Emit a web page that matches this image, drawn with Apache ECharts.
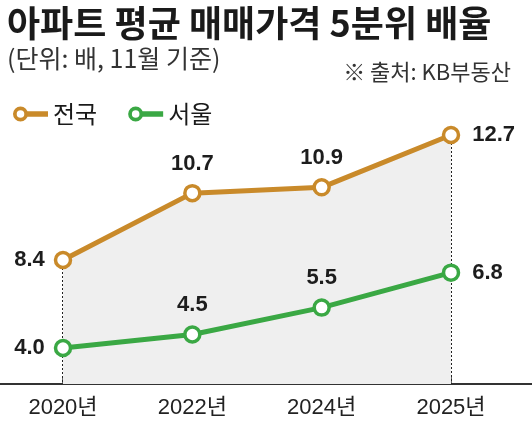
<!DOCTYPE html>
<html><head><meta charset="utf-8">
<script src="https://cdn.jsdelivr.net/npm/echarts@6/dist/echarts.min.js"></script>
<style>html,body{margin:0;padding:0;background:#fff;}#c{width:532px;height:430px;}</style>
</head><body><div id="c"></div>
<script>
var years = ['2020년', '2022년', '2024년', '2025년'];
var national = [8.4, 10.7, 10.9, 12.7];
var seoul = [4.0, 4.5, 5.5, 6.8];
var seriesNames = ['전국', '서울'];

var ORANGE = '#c98a2a', GREEN = '#3aa844';
var NAT_MIN = 4.134, NAT_MAX = 13.904;
var SEO_MIN = 2.66, SEO_MAX = 13.22;
var ICON = 'path://M0,7.5 A7.5,7.5 0 1,1 15,7.5 A7.5,7.5 0 1,1 0,7.5 Z M3.7,7.5 A3.8,3.8 0 1,0 11.3,7.5 A3.8,3.8 0 1,0 3.7,7.5 Z M14,4.8 L35,4.8 L35,10.2 L14,10.2 Z';
var LABEL_FONT = {fontFamily: 'Liberation Sans, Arial, sans-serif', fontWeight: 'bold', fontSize: 22, color: '#1d1d1d'};

function buildData(arr) {
  var last = arr.length - 1;
  return arr.map(function (v, i) {
    var pos = i === 0 ? 'left' : (i === last ? 'right' : 'top');
    return {value: v, label: {position: pos, distance: i === last ? 12 : 9}};
  });
}
function fmt(p) { return Number(p.value).toFixed(1); }

var chart = echarts.init(document.getElementById('c'), null, {renderer: 'canvas'});
chart.setOption({
  animation: false,
  backgroundColor: '#fff',
  title: [
    {text: '아파트 평균 매매가격 5분위 배율', left: 2, top: 0,
     textStyle: {fontFamily: 'Noto Sans CJK KR', fontWeight: 'bold', fontSize: 36, color: '#1a1a1a'}},
    {text: '(단위: 배, 11월 기준)', left: 2, top: 41,
     textStyle: {fontFamily: 'Noto Sans CJK KR', fontWeight: 'normal', fontSize: 25, color: '#333'}},
    {text: '※ 출처: KB부동산', right: 16, top: 56,
     textStyle: {fontFamily: 'Noto Sans CJK KR', fontWeight: 'normal', fontSize: 22, color: '#333'}}
  ],
  legend: {
    left: 8, top: 97, itemWidth: 35, itemHeight: 15, itemGap: 31,
    textStyle: {fontFamily: 'Noto Sans CJK KR', fontSize: 24, color: '#1a1a1a', padding: [0, 0, 0, 0]},
    data: [
      {name: seriesNames[0], icon: ICON, itemStyle: {color: ORANGE, borderWidth: 0}},
      {name: seriesNames[1], icon: ICON, itemStyle: {color: GREEN, borderWidth: 0}}
    ]
  },
  grid: {left: 63, right: 81, top: 100, bottom: 46},
  xAxis: {
    type: 'category', data: years, boundaryGap: false,
    axisLine: {show: false},
    axisTick: {show: true, inside: true, length: 7, lineStyle: {color: '#333', width: 1.5}},
    axisLabel: {margin: 13, fontFamily: 'Liberation Sans Narrow, Liberation Sans, Noto Sans CJK KR', fontSize: 22, color: '#222'},
    splitLine: {show: false}
  },
  yAxis: [
    {type: 'value', show: false, min: NAT_MIN, max: NAT_MAX, splitLine: {show: false}},
    {type: 'value', show: false, min: SEO_MIN, max: SEO_MAX, splitLine: {show: false}}
  ],
  graphic: [
    {type: 'line', z: 1, shape: {x1: 0, y1: 384, x2: 532, y2: 384}, style: {stroke: '#333', lineWidth: 2}}
  ],
  series: [
    {
      name: seriesNames[0], type: 'line', yAxisIndex: 0, z: 3,
      data: buildData(national),
      symbol: 'circle', symbolSize: 15,
      itemStyle: {color: '#fff', borderColor: ORANGE, borderWidth: 3.5},
      lineStyle: {color: ORANGE, width: 5},
      areaStyle: {color: '#efefef', opacity: 1},
      label: Object.assign({show: true, formatter: fmt}, LABEL_FONT),
      markLine: {
        silent: true, symbol: 'none', z: 1,
        label: {show: false},
        lineStyle: {type: 'dotted', color: '#222', width: 2},
        data: [
          [{coord: [years[0], national[0]]}, {coord: [years[0], NAT_MIN]}],
          [{coord: [years[years.length - 1], national[national.length - 1]]}, {coord: [years[years.length - 1], NAT_MIN]}]
        ]
      }
    },
    {
      name: seriesNames[1], type: 'line', yAxisIndex: 1, z: 4,
      data: buildData(seoul),
      symbol: 'circle', symbolSize: 15,
      itemStyle: {color: '#fff', borderColor: GREEN, borderWidth: 3.5},
      lineStyle: {color: GREEN, width: 5},
      label: Object.assign({show: true, formatter: fmt}, LABEL_FONT)
    }
  ]
});
</script></body></html>
